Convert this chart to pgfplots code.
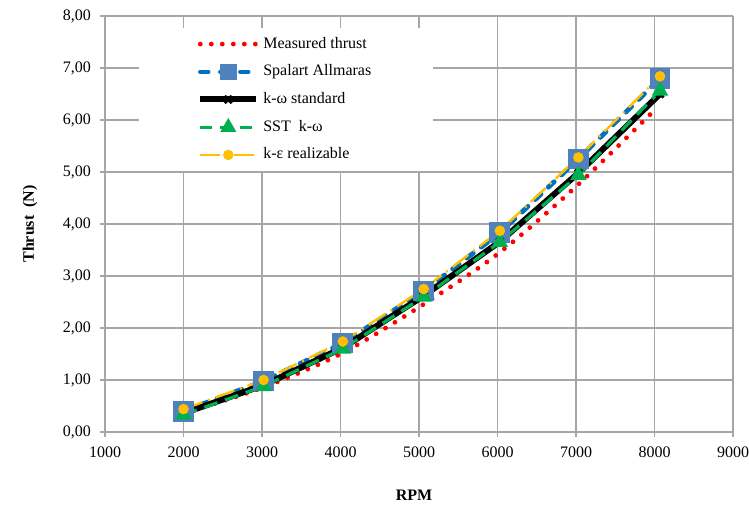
\documentclass[border=0pt]{standalone}
\usepackage{fontspec}
\setmainfont{Liberation Serif}
\usepackage{pgfplots}
\pgfplotsset{compat=1.18}
\definecolor{gridgray}{HTML}{A6A6A6}
\definecolor{spblue}{HTML}{0070C0}
\definecolor{spmark}{HTML}{4F81BD}
\definecolor{sstgreen}{HTML}{00B050}
\definecolor{keyellow}{HTML}{FFC000}
\begin{document}
\begin{tikzpicture}
\begin{axis}[
  name=ax,
  scale only axis,
  width=314pt, height=208pt,
  xmin=1000, xmax=9000, ymin=0, ymax=8,
  xtick={1000,2000,...,9000},
  ytick={0,1,...,8},
  grid=major,
  grid style={gridgray, line width=0.6pt},
  axis line style={gridgray, line width=0.6pt},
  tick style={gridgray, line width=0.6pt},
  tick align=outside,
  major tick length=2.5pt,
  axis x line*=bottom, axis y line*=left,
  /pgf/number format/assume math mode=true,
  xticklabel style={/pgf/number format/1000 sep={}},
  yticklabel style={/pgf/number format/.cd, fixed, fixed zerofill, precision=2, use comma},
  tick label style={font=\fontsize{8}{9}\selectfont, black},
  xticklabel shift=1.5pt,
  yticklabel shift=1pt,
  xlabel={RPM},
  ylabel={Thrust\ \ (N)},
  xlabel style={font=\fontsize{8}{9}\selectfont\bfseries, at={(axis description cs:0.492,-0.1514)}, anchor=center},
  ylabel style={font=\fontsize{8}{9}\selectfont\bfseries, at={(axis description cs:-0.1194,0.5)}, anchor=center},
  legend style={at={(0.054,0.972)}, anchor=north west, draw=none, fill=white,
    inner xsep=29pt, inner ysep=2.5pt, row sep=2.8pt, font=\fontsize{8}{9}\selectfont},
  legend cell align=left,
  legend image code/.code={\draw[mark repeat=2, mark phase=2, #1] plot coordinates {(0pt,0pt) (14pt,0pt) (28pt,0pt)};},
]
\addlegendimage{color=red, line width=2.4pt, line cap=round, dash pattern=on 0pt off 5.5pt}
\addlegendentry{Measured thrust}
\addlegendimage{color=spblue, line width=2.2pt, line cap=round, dash pattern=on 4pt off 6pt,
  mark=square*, mark size=3pt, mark options={solid, fill=spmark, draw=spmark}}
\addlegendentry{Spalart Allmaras}
\addlegendimage{color=black, line width=3pt, mark=x, mark size=2.5pt, mark options={solid, line width=1.5pt}}
\addlegendentry{k-ω standard}
\addlegendimage{color=sstgreen, line width=1.6pt, dash pattern=on 6pt off 4pt,
  mark=triangle*, mark size=3pt, mark options={solid, fill=sstgreen, draw=sstgreen}}
\addlegendentry{SST\ \ k-ω}
\addlegendimage{color=keyellow, line width=1.2pt, dash pattern=on 10pt off 3pt on 1pt off 3pt,
  mark=*, mark size=2pt, mark options={solid, fill=keyellow, draw=keyellow}}
\addlegendentry{k-ε realizable}
\addplot[forget plot, color=red, line width=2.4pt, line cap=round, dash pattern=on 0pt off 5.5pt, smooth] coordinates {
 (2000,0.36) (3000,0.85) (4000,1.50) (5000,2.40) (6000,3.42) (7000,4.72) (8000,6.19)};
\addplot[forget plot, color=spblue, line width=2.4pt, line cap=round, dash pattern=on 4pt off 5pt,
  mark=square*, mark size=4pt, mark options={solid, fill=spmark, draw=spmark}] coordinates {
 (2000,0.40) (3020,0.98) (4030,1.71) (5060,2.71) (6030,3.83) (7030,5.25) (8070,6.80)};
\addplot[forget plot, color=black, line width=3pt, mark=x, mark size=2.5pt, mark options={solid, line width=1.5pt}] coordinates {
 (2000,0.36) (3020,0.90) (4030,1.62) (5060,2.62) (6030,3.66) (7030,4.98) (8070,6.50)};
\addplot[forget plot, color=sstgreen, line width=1.6pt, dash pattern=on 7pt off 4pt,
  mark=triangle*, mark size=3.2pt, mark options={solid, fill=sstgreen, draw=sstgreen}] coordinates {
 (2000,0.33) (3020,0.88) (4030,1.60) (5060,2.60) (6030,3.65) (7030,4.94) (8070,6.56)};
\addplot[forget plot, color=keyellow, line width=1.2pt, dash pattern=on 10pt off 3pt on 1pt off 3pt,
  mark=*, mark size=2pt, mark options={solid, fill=keyellow, draw=keyellow}] coordinates {
 (2000,0.44) (3020,1.00) (4030,1.74) (5060,2.75) (6030,3.87) (7030,5.28) (8070,6.84)};
\end{axis}
\pgfresetboundingbox
\path ([shift={(-52.5pt,-36.5pt)}]ax.south west) rectangle ([shift={(8pt,8pt)}]ax.north east);
\end{tikzpicture}
\end{document}
